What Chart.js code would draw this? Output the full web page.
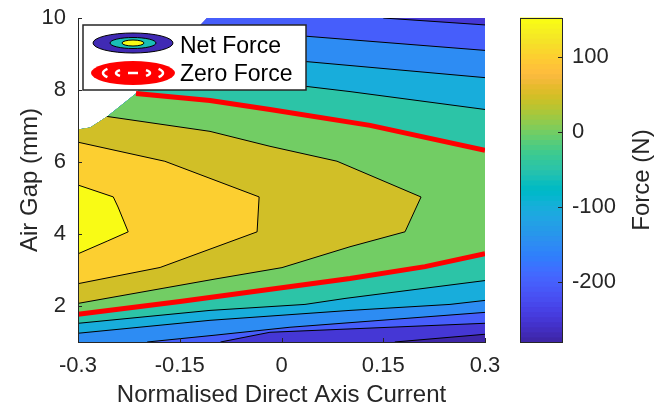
<!DOCTYPE html>
<html><head><meta charset="utf-8">
<script src="https://cdn.jsdelivr.net/npm/chart.js@4/dist/chart.umd.min.js"></script>
<style>html,body{margin:0;padding:0;background:#fff;}</style>
</head><body>
<canvas id="c" width="667" height="410" style="width:667px;height:410px;display:block"></canvas>
<script>
// ---------------- data ----------------
const xTicks = [-0.3, -0.15, 0, 0.15, 0.3];
const xTickLabels = ['-0.3', '-0.15', '0', '0.15', '0.3'];
const yTicks = [2, 4, 6, 8, 10];
const cbTicks = [-200, -100, 0, 100];
const levels = [-250, -200, -150, -100, -50, 0, 50, 100, 150];
const forceRange = [-280, 152];
// edge of the region where force data exists (upper-left corner has none)
const validDomainEdge = [[-0.3, 6.906], [-0.282, 6.96], [-0.257, 7.265], [-0.2145, 7.901], [-0.1098, 10]];

// contour lines [current, gap]
const c150 = [[-0.3, 5.36], [-0.248, 5.03], [-0.241, 4.75], [-0.226, 4.06], [-0.256, 3.81], [-0.3, 3.45]];
const c100 = [[-0.3, 6.55], [-0.172, 6.02], [-0.033, 5.03], [-0.036, 4.06], [-0.179, 3.07], [-0.3, 2.62]];
const c50 = [[-0.257, 7.265], [-0.1054, 6.851], [-0.017, 6.436], [0.0818, 6.022], [0.2057, 5.028], [0.1821, 4.061], [0.101, 3.646], [0.0007, 3.066], [-0.098, 2.749], [-0.3, 2.072]];
const c0Upper = [[-0.2145, 7.901], [-0.1054, 7.707], [-0.017, 7.459], [0.1305, 7.017], [0.3, 6.326]];
const c0Lower = [[-0.3, 1.768], [-0.1496, 2.127], [0.101, 2.762], [0.2116, 3.094], [0.3, 3.453]];
const cm50Upper = [[-0.1946, 8.30], [0.0391, 8.094], [0.101, 7.956], [0.3, 7.459]];
const cm50Lower = [[-0.3, 1.519], [-0.1054, 1.878], [0.0346, 2.044], [0.0936, 2.21], [0.3, 2.707]];
const cm100Upper = [[-0.1646, 8.9], [0.0391, 8.785], [0.3, 8.343]];
const cm100Lower = [[-0.3, 1.243], [-0.1054, 1.602], [0.101, 1.878], [0.2484, 2.044], [0.3, 2.155]];
const cm150Upper = [[-0.1247, 9.7], [0.0391, 9.49], [0.3, 9.1]];
const cm150Lower = [[-0.198, 1.0], [-0.098, 1.19], [0.0125, 1.41], [0.3, 1.823]];
const cm200Upper = [[0.15, 10], [0.3, 9.807]];
const cm200Lower = [[-0.09, 1.0], [-0.017, 1.27], [0.3, 1.52]];
const cm250Lower = [[0.167, 1.0], [0.3, 1.215]];

// which side of each line holds the higher force
const contourParts = [
  {level: -250, pts: cm250Lower, side: 'above'},
  {level: -200, pts: cm200Upper, side: 'below'},
  {level: -200, pts: cm200Lower, side: 'above'},
  {level: -150, pts: cm150Upper, side: 'below'},
  {level: -150, pts: cm150Lower, side: 'above'},
  {level: -100, pts: cm100Upper, side: 'below'},
  {level: -100, pts: cm100Lower, side: 'above'},
  {level: -50, pts: cm50Upper, side: 'below'},
  {level: -50, pts: cm50Lower, side: 'above'},
  {level: 0, pts: c0Upper, side: 'below'},
  {level: 0, pts: c0Lower, side: 'above'},
  {level: 50, pts: c50, side: 'left'},
  {level: 100, pts: c100, side: 'left'},
  {level: 150, pts: c150, side: 'left'}
];

// ---------------- colormap (parula) ----------------
const PARULA = [[0.2422,0.1504,0.6603],[0.2504,0.1650,0.7076],[0.2578,0.1818,0.7511],[0.2647,0.1978,0.7952],[0.2706,0.2147,0.8364],[0.2751,0.2342,0.8710],[0.2783,0.2559,0.8991],[0.2803,0.2782,0.9221],[0.2813,0.3006,0.9414],[0.2810,0.3228,0.9579],[0.2795,0.3447,0.9717],[0.2760,0.3667,0.9829],[0.2699,0.3892,0.9906],[0.2602,0.4123,0.9952],[0.2440,0.4358,0.9988],[0.2206,0.4603,0.9973],[0.1963,0.4847,0.9892],[0.1834,0.5074,0.9798],[0.1786,0.5289,0.9682],[0.1764,0.5499,0.9520],[0.1687,0.5703,0.9359],[0.1540,0.5902,0.9218],[0.1460,0.6091,0.9079],[0.1380,0.6276,0.8973],[0.1248,0.6459,0.8883],[0.1113,0.6635,0.8763],[0.0952,0.6798,0.8598],[0.0689,0.6948,0.8394],[0.0297,0.7082,0.8163],[0.0036,0.7203,0.7917],[0.0067,0.7312,0.7660],[0.0433,0.7411,0.7394],[0.0964,0.7500,0.7120],[0.1408,0.7584,0.6842],[0.1717,0.7670,0.6554],[0.1938,0.7758,0.6251],[0.2161,0.7843,0.5923],[0.2470,0.7918,0.5567],[0.2906,0.7973,0.5188],[0.3406,0.8008,0.4789],[0.3909,0.8029,0.4354],[0.4456,0.8024,0.3909],[0.5044,0.7993,0.3480],[0.5616,0.7942,0.3045],[0.6174,0.7876,0.2612],[0.6720,0.7793,0.2227],[0.7242,0.7698,0.1910],[0.7738,0.7598,0.1646],[0.8203,0.7498,0.1535],[0.8634,0.7406,0.1596],[0.9035,0.7330,0.1774],[0.9393,0.7288,0.2100],[0.9728,0.7298,0.2394],[0.9956,0.7434,0.2371],[0.9970,0.7659,0.2199],[0.9952,0.7893,0.2028],[0.9892,0.8136,0.1885],[0.9786,0.8386,0.1766],[0.9676,0.8639,0.1643],[0.9610,0.8890,0.1537],[0.9597,0.9135,0.1423],[0.9628,0.9373,0.1265],[0.9691,0.9606,0.1064],[0.9769,0.9839,0.0805]];
function rgb(c){ return 'rgb(' + Math.round(c[0]*255) + ',' + Math.round(c[1]*255) + ',' + Math.round(c[2]*255) + ')'; }
function forceColor(v){
  const [a, b] = forceRange;
  let i = Math.floor((v - a) / (b - a) * PARULA.length);
  i = Math.max(0, Math.min(PARULA.length - 1, i));
  return rgb(PARULA[i]);
}

const FONT = "'Liberation Sans', Arial, Helvetica, sans-serif";
const AX = '#262626';

// ---------------- plugins ----------------
const contourFill = {
  id: 'contourFill',
  beforeDatasetsDraw(chart) {
    const {ctx, chartArea, scales: {x, y}} = chart;
    const X = v => x.getPixelForValue(v), Y = v => y.getPixelForValue(v);
    const x0 = x.min, x1 = x.max, y0 = y.min, y1 = y.max;
    const poly = pts => {
      ctx.beginPath();
      pts.forEach((p, i) => i ? ctx.lineTo(X(p[0]), Y(p[1])) : ctx.moveTo(X(p[0]), Y(p[1])));
      ctx.closePath();
    };
    const region = (path, side) => {
      if (side === 'above') return path.concat([[x1, y0], [x1, y1], [x0, y1], [x0, y0]]);
      if (side === 'below') return path.concat([[x1, y1], [x1, y0], [x0, y0], [x0, y1]]);
      return path.concat([[x0, y1]]);
    };
    ctx.save();
    poly([[x0, y0], [x1, y0], [x1, y1]].concat(validDomainEdge.slice().reverse()));
    ctx.clip();
    ctx.fillStyle = forceColor(forceRange[0]);
    ctx.fillRect(chartArea.left - 2, chartArea.top - 2, chartArea.width + 4, chartArea.height + 4);
    levels.forEach(L => {
      const parts = contourParts.filter(p => p.level === L);
      if (!parts.length) return;
      ctx.save();
      parts.slice(0, -1).forEach(p => { poly(region(p.pts, p.side)); ctx.clip(); });
      const last = parts[parts.length - 1];
      poly(region(last.pts, last.side));
      ctx.fillStyle = forceColor(L);
      ctx.fill();
      ctx.restore();
    });
    ctx.restore();
  }
};

const decorations = {
  id: 'decorations',
  afterDraw(chart) {
    const {ctx, chartArea: ca, scales: {x, y, cb}} = chart;
    ctx.save();
    // inward ticks
    ctx.strokeStyle = AX; ctx.lineWidth = 1;
    xTicks.forEach(v => { const px = Math.round(x.getPixelForValue(v)) + 0.5; ctx.beginPath(); ctx.moveTo(px, ca.bottom); ctx.lineTo(px, ca.bottom - 4); ctx.stroke(); });
    yTicks.forEach(v => { const py = Math.round(y.getPixelForValue(v)) + 0.5; ctx.beginPath(); ctx.moveTo(ca.left, py); ctx.lineTo(ca.left + 4, py); ctx.stroke(); });

    // colorbar
    const bx0 = 520, bx1 = 562;
    const n = PARULA.length, [a, b] = forceRange;
    for (let i = 0; i < n; i++) {
      const yb = cb.getPixelForValue(a + (b - a) * i / n);
      const yt = cb.getPixelForValue(a + (b - a) * (i + 1) / n);
      ctx.fillStyle = rgb(PARULA[i]);
      ctx.fillRect(bx0, yt - 0.5, bx1 - bx0, yb - yt + 1);
    }
    ctx.strokeStyle = AX; ctx.lineWidth = 1;
    const ct = Math.round(cb.getPixelForValue(b)) + 0.5, cbm = Math.round(cb.getPixelForValue(a)) + 0.5;
    ctx.strokeRect(bx0 + 0.5, ct, bx1 - bx0, cbm - ct);
    cbTicks.forEach(v => { const py = Math.round(cb.getPixelForValue(v)) + 0.5; ctx.beginPath(); ctx.moveTo(bx1, py); ctx.lineTo(bx1 - 4, py); ctx.stroke(); });
    // colorbar title
    ctx.fillStyle = AX; ctx.font = '24px ' + FONT;
    ctx.translate(642, (ca.top + ca.bottom) / 2); ctx.rotate(-Math.PI / 2);
    ctx.textAlign = 'center'; ctx.textBaseline = 'middle';
    ctx.fillText('Force (N)', 0, 0);
    ctx.restore();

    // legend
    ctx.save();
    const lx = ca.left + 5, ly = ca.top + 7, lw = 223, lh = 65;
    ctx.fillStyle = '#fff'; ctx.fillRect(lx, ly, lw, lh);
    ctx.strokeStyle = AX; ctx.lineWidth = 1.5; ctx.strokeRect(lx, ly, lw, lh);
    const icx = lx + 50, iy1 = ly + 18, iy2 = ly + 48;
    const ell = (cx, cy, rx, ry, fill, stroke) => {
      ctx.beginPath(); ctx.ellipse(cx, cy, rx, ry, 0, 0, Math.PI * 2);
      if (fill) { ctx.fillStyle = fill; ctx.fill(); }
      if (stroke) { ctx.strokeStyle = stroke; ctx.lineWidth = 1; ctx.stroke(); }
    };
    ell(icx, iy1, 40, 10, forceColor(-270), '#000');
    ell(icx, iy1, 23, 5.5, forceColor(-60), '#000');
    ell(icx, iy1, 11, 3, forceColor(152), '#000');
    ell(icx, iy2, 42, 12, '#ff0000', null);
    ctx.strokeStyle = '#fff'; ctx.lineWidth = 2.5;
    [[30, 8, 0.55], [17, 4.5, 0.7]].forEach(([rx, ry, t]) => {
      ctx.beginPath(); ctx.ellipse(icx, iy2, rx, ry, 0, -t, t); ctx.stroke();
      ctx.beginPath(); ctx.ellipse(icx, iy2, rx, ry, 0, Math.PI - t, Math.PI + t); ctx.stroke();
    });
    ctx.beginPath(); ctx.moveTo(icx - 5, iy2); ctx.lineTo(icx + 5, iy2); ctx.stroke();
    ctx.fillStyle = '#000'; ctx.font = '23px ' + FONT;
    ctx.textAlign = 'left'; ctx.textBaseline = 'alphabetic';
    ctx.fillText('Net Force', lx + 97, ly + 27.5);
    ctx.fillText('Zero Force', lx + 97, ly + 56);
    ctx.restore();
  }
};

// ---------------- chart ----------------
const toXY = pts => pts.map(p => ({x: p[0], y: p[1]}));
const lineSets = contourParts.filter(p => p.level !== 0).map(p => ({
  data: toXY(p.pts), showLine: true, borderColor: '#000', borderWidth: 1, pointRadius: 0, tension: 0, fill: false
}));
const zeroSets = [c0Upper, c0Lower].map(pts => ({
  data: toXY(pts), showLine: true, borderColor: '#ff0000', borderWidth: 5, pointRadius: 0, tension: 0, fill: false, borderCapStyle: 'butt'
}));

new Chart(document.getElementById('c'), {
  type: 'scatter',
  data: {datasets: zeroSets.concat(lineSets)},
  options: {
    responsive: false, animation: false, devicePixelRatio: 1, events: [],
    layout: {padding: {top: 18, left: 0, right: 0, bottom: 0}},
    plugins: {legend: {display: false}, tooltip: {enabled: false}},
    scales: {
      x: {
        type: 'linear', min: -0.3, max: 0.3,
        afterBuildTicks: s => { s.ticks = xTicks.map(v => ({value: v})); },
        afterFit: s => { s.height = 68; },
        ticks: {callback: (v, i) => xTickLabels[i], font: {family: FONT, size: 22}, color: AX, padding: 0, maxRotation: 0, autoSkip: false},
        grid: {display: false, drawTicks: true, tickLength: 11},
        border: {display: true, color: AX, width: 1, z: 1},
        title: {display: true, text: 'Normalised Direct Axis Current', font: {family: FONT, size: 24}, color: AX, padding: {top: 0, bottom: 0}}
      },
      y: {
        type: 'linear', min: 1, max: 10,
        afterBuildTicks: s => { s.ticks = yTicks.map(v => ({value: v})); },
        afterFit: s => { s.width = 78; },
        ticks: {font: {family: FONT, size: 22}, color: AX, padding: 0},
        grid: {display: false, drawTicks: true, tickLength: 12},
        border: {display: true, color: AX, width: 1, z: 1},
        title: {display: true, text: 'Air Gap (mm)', font: {family: FONT, size: 24}, color: AX, padding: {top: 16, bottom: 0}}
      },
      cb: {
        type: 'linear', position: 'right', min: forceRange[0], max: forceRange[1],
        afterBuildTicks: s => { s.ticks = cbTicks.map(v => ({value: v})); },
        afterFit: s => { s.width = 182; },
        ticks: {font: {family: FONT, size: 22}, color: AX, padding: 0},
        grid: {display: false, drawTicks: true, tickLength: 87},
        border: {display: false}
      }
    }
  },
  plugins: [contourFill, decorations]
});
</script>
</body></html>
